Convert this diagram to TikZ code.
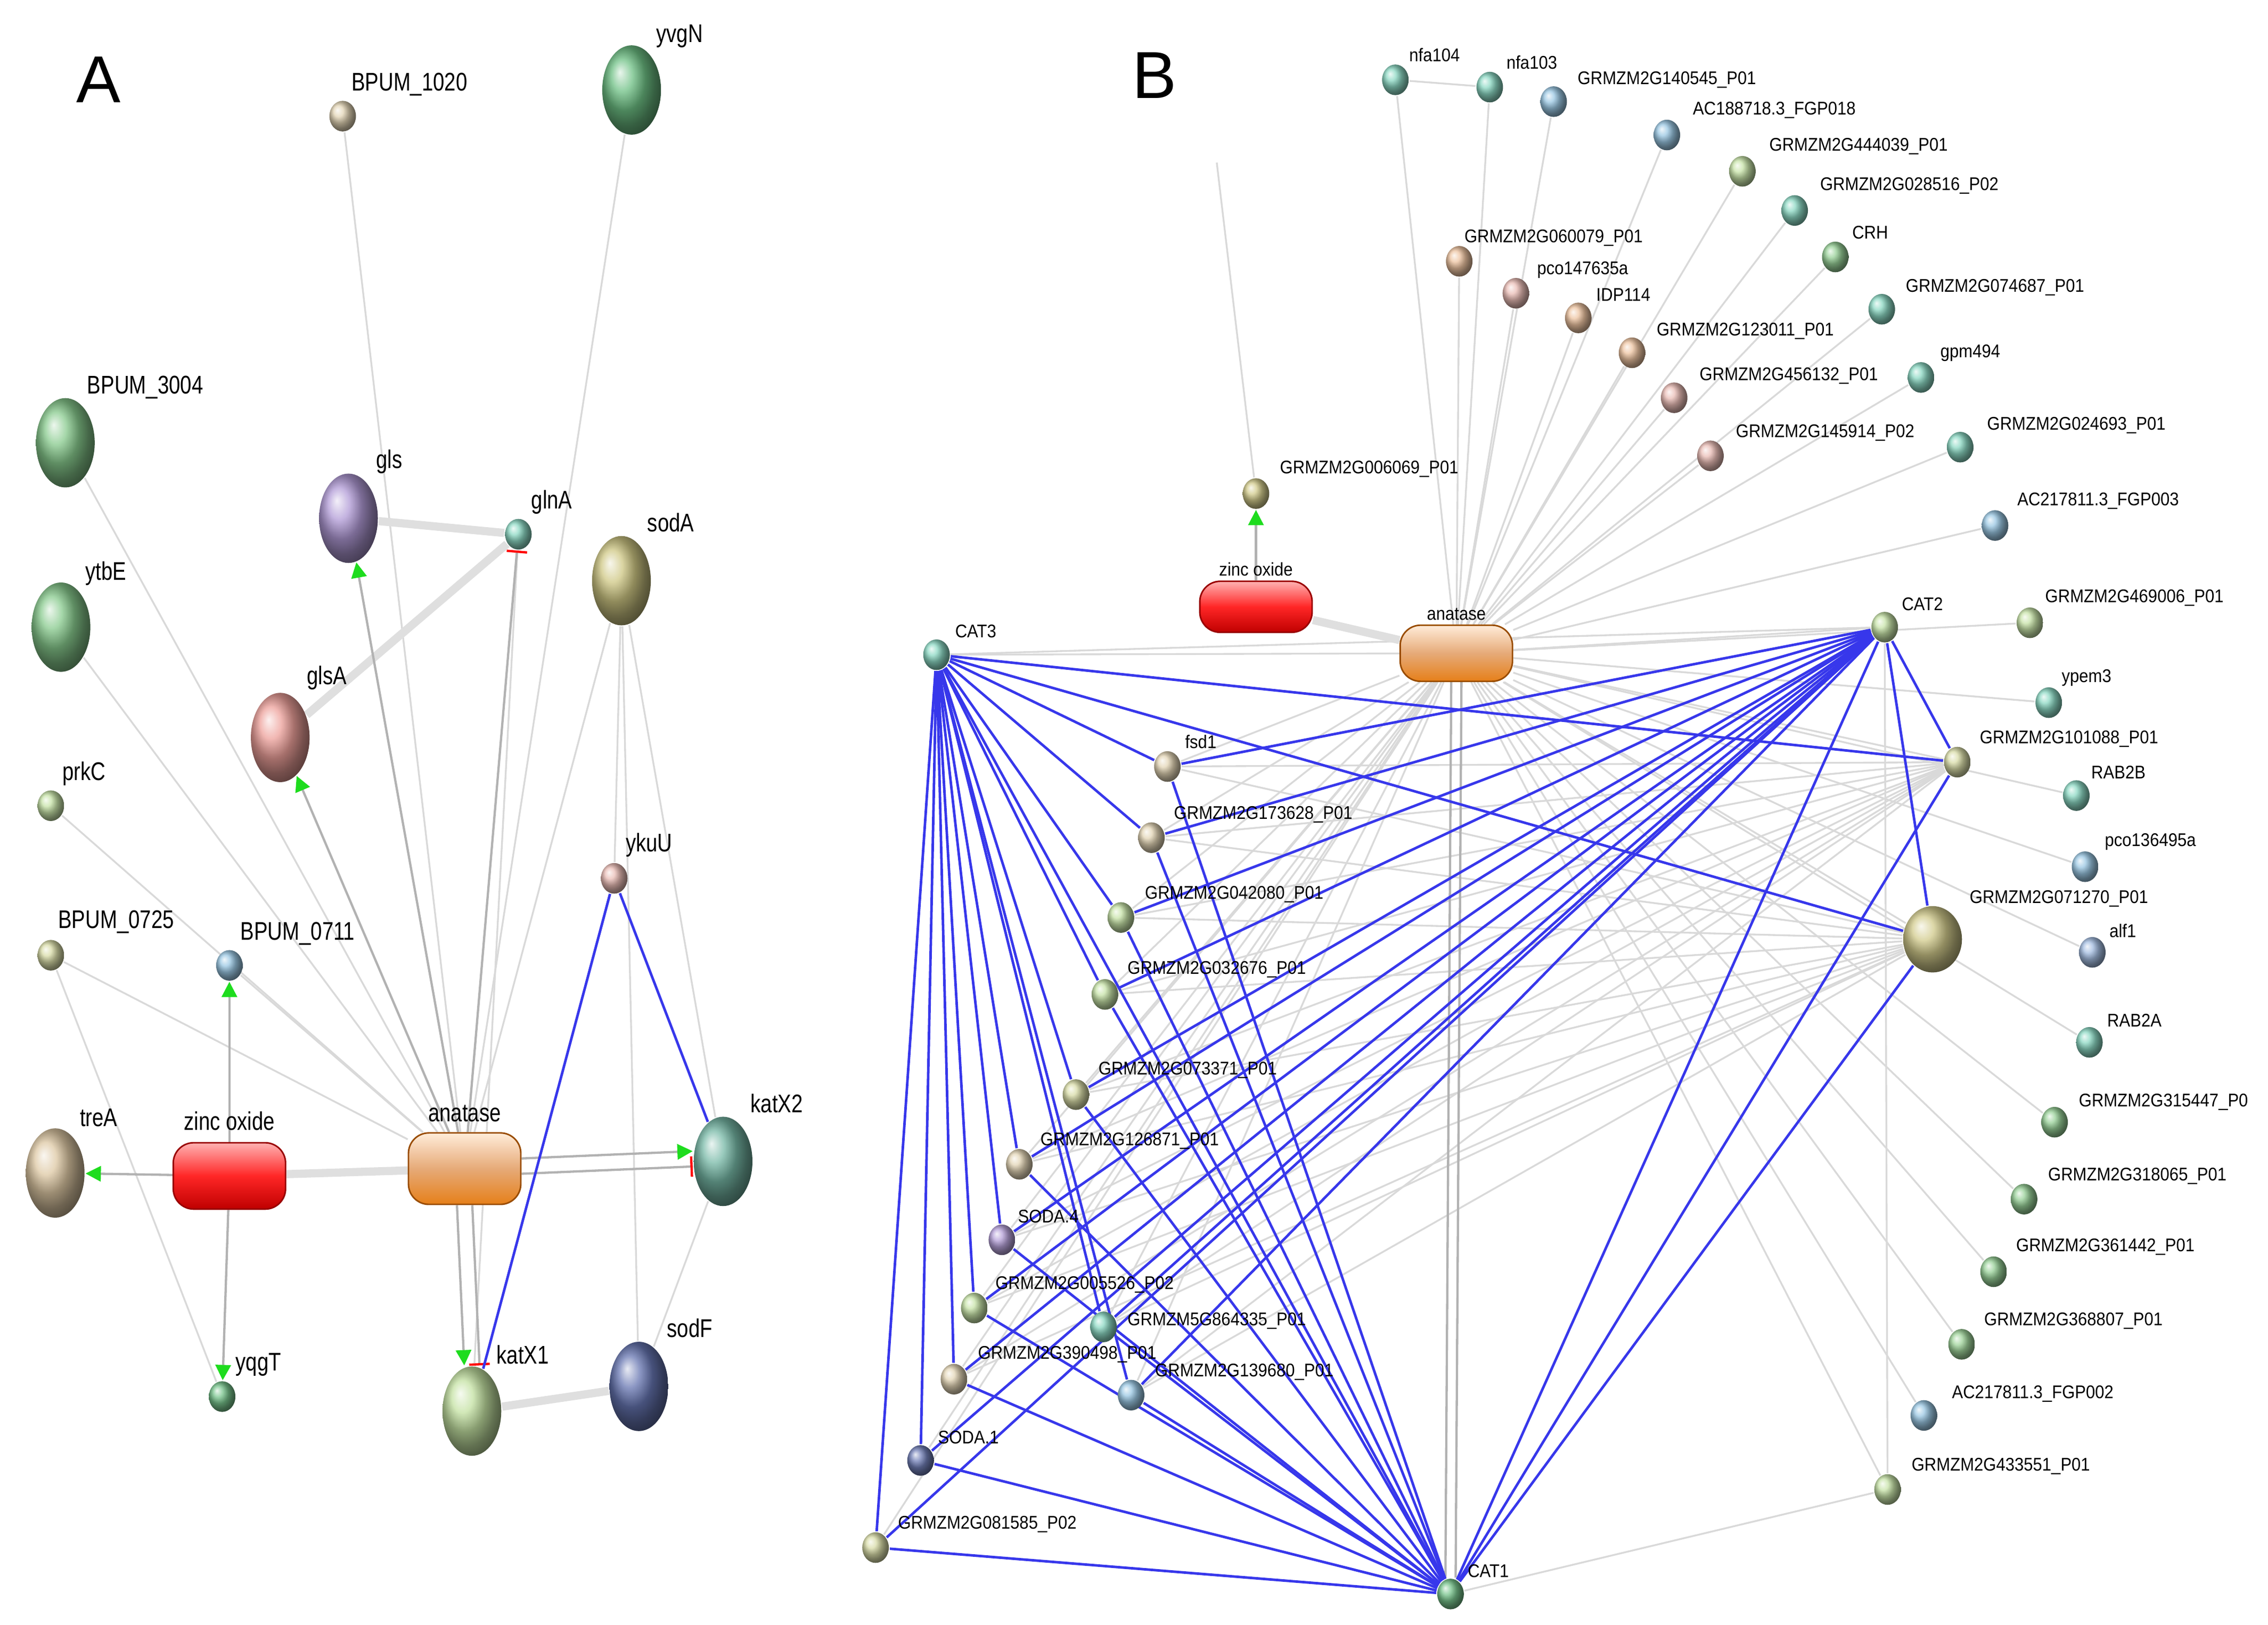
\documentclass[tikz,border=0pt]{standalone}
\usepackage{fontspec}
\setmainfont{Liberation Sans}
\usetikzlibrary{arrows.meta,shapes.geometric,backgrounds}
\definecolor{tanc}{RGB}{215,195,150}
\definecolor{gr1}{RGB}{60,170,90}
\definecolor{lg}{RGB}{175,215,130}
\definecolor{yg}{RGB}{200,205,130}
\definecolor{olv}{RGB}{190,180,90}
\definecolor{tea}{RGB}{90,200,170}
\definecolor{blu}{RGB}{110,175,215}
\definecolor{pnk}{RGB}{225,160,150}
\definecolor{pur}{RGB}{150,120,200}
\definecolor{dbl}{RGB}{50,70,150}
\definecolor{orc}{RGB}{230,170,120}
\definecolor{edgeb}{RGB}{55,55,235}
\definecolor{arrg}{RGB}{30,220,30}
\begin{document}
\begin{tikzpicture}[x=0.01cm,y=-0.01cm,
 sm/.style={ellipse,shading=ball,ball color=#1!70!white,minimum width=5.2pt,minimum height=6pt,inner sep=0},
 bg/.style={ellipse,shading=ball,ball color=#1!75!white,minimum width=11.5pt,minimum height=17.5pt,inner sep=0},
 mb/.style={ellipse,shading=ball,ball color=#1!70!white,minimum width=11.5pt,minimum height=13pt,inner sep=0},
 la/.style={font=\fontsize{5}{6}\selectfont,inner sep=0.5pt,xscale=0.8,transform shape},
 lb/.style={font=\fontsize{3.6}{4}\selectfont,inner sep=0.5pt,xscale=0.9,transform shape},
 zn/.style={rectangle,rounded corners=4pt,top color=red!30,bottom color=red!75!black,middle color=red!85,minimum width=22pt,minimum height=#1,draw=red!60!black,line width=0.3pt},
 an/.style={rectangle,rounded corners=4pt,top color=orange!15,bottom color=orange!60!brown,middle color=orc,minimum width=22pt,minimum height=#1,draw=orange!60!black,line width=0.3pt},
 ge/.style={draw=gray!30,line width=0.35pt},
 gd/.style={draw=gray!60,line width=0.45pt},
 gt/.style={draw=gray!25,line width=1.6pt},
 be/.style={draw=edgeb,line width=0.5pt},
 ga/.style={-{Triangle[length=3pt,width=3pt,color=arrg]}}
]
\useasboundingbox (0,0) rectangle (1562,1119);
% ================= Panel A =================
\node[font=\fontsize{13}{13}\selectfont] (labA) at (68,55) {A};
\node[sm=tanc] (a1020) at (236,80) {};
\node[bg=gr1] (yvgN) at (435,62) {};
\node[bg=gr1!70!lg] (a3004) at (45,305) {};
\node[bg=gr1!70!lg] (ytbE) at (42,432) {};
\node[sm=lg] (prkC) at (35,555) {};
\node[sm=yg] (a0725) at (35,658) {};
\node[sm=blu] (a0711) at (158,665) {};
\node[bg=tanc!80!brown] (treA) at (38,808) {};
\node[zn=13pt] (znA) at (158,810) {};
\node[an=14pt] (anA) at (320,805) {};
\node[bg=tea!80!black] (katX2) at (498,800) {};
\node[sm=gr1] (yqgT) at (153,962) {};
\node[bg=lg] (katX1) at (325,972) {};
\node[bg=dbl] (sodF) at (440,955) {};
\node[sm=pnk] (ykuU) at (423,605) {};
\node[bg=olv] (sodA) at (428,400) {};
\node[sm=tea] (glnA) at (357,368) {};
\node[bg=pur] (gls) at (240,357) {};
\node[bg=pnk!80!red] (glsA) at (193,508) {};
\node[la] (l1) at (282,58) {BPUM\_1020};
\node[la] (l2) at (468,25) {yvgN};
\node[la] (l3) at (100,267) {BPUM\_3004};
\node[la] (l4) at (73,395) {ytbE};
\node[la] (l5) at (58,533) {prkC};
\node[la] (l6) at (80,635) {BPUM\_0725};
\node[la] (l7) at (205,643) {BPUM\_0711};
\node[la] (l8) at (68,770) {treA};
\node[la] (l9) at (158,772) {zinc oxide};
\node[la] (l10) at (320,767) {anatase};
\node[la] (l11) at (535,760) {katX2};
\node[la] (l12) at (178,940) {yqgT};
\node[la] (l13) at (360,933) {katX1};
\node[la] (l14) at (475,915) {sodF};
\node[la] (l15) at (447,582) {ykuU};
\node[la] (l16) at (462,360) {sodA};
\node[la] (l17) at (380,346) {glnA};
\node[la] (l18) at (268,318) {gls};
\node[la] (l19) at (225,467) {glsA};
\begin{pgfonlayer}{background}
\foreach \t in {a1020,yvgN,a3004,ytbE,prkC,a0725,a0711,sodA} \draw[ge] (anA) -- (\t);
\draw[ge] (a0725) -- (yqgT);
\draw[ge] (sodA) -- (sodF); \draw[ge] (sodA) -- (katX2); \draw[ge] (sodA) -- (ykuU);
\draw[ge] (sodF) -- (katX2); \draw[ge] (glnA) -- (katX1);
\draw[gt] (gls) -- (glnA); \draw[gt] (glsA) -- (glnA); \draw[gt] (znA) -- (anA); \draw[gt] (katX1) -- (sodF);
\draw[gd,ga] (anA) -- (gls); \draw[gd,ga] (anA) -- (glsA);
\draw[gd,-{Bar[width=4pt,color=red]}] (anA) -- (glnA);
\draw[gd,ga] ([yshift=2pt]anA.east) -- ([yshift=2pt]katX2.west);
\draw[gd,-{Bar[width=4pt,color=red]}] ([yshift=-1pt]anA.east) -- ([yshift=-1pt]katX2.west);
\draw[gd,ga] ([xshift=-1.5pt]anA.south) -- ([xshift=-1.5pt]katX1.north);
\draw[gd,-{Bar[width=4pt,color=red]}] ([xshift=1.5pt]anA.south) -- ([xshift=1.5pt]katX1.north);
\draw[gd,ga] (znA) -- (treA); \draw[gd,ga] (znA) -- (a0711); \draw[gd,ga] (znA) -- (yqgT);
\draw[be] (ykuU) -- (katX1); \draw[be] (ykuU) -- (katX2);
\end{pgfonlayer}
% ================= Panel B =================
\node[font=\fontsize{13}{13}\selectfont] (labB) at (795,52) {B};
\foreach \n/\c/\x/\y/\lx/\ly/\t in {
 nfa104/tea/961/55/988/38/nfa104,
 nfa103/tea/1026/60/1055/43/nfa103,
 g140545/blu/1070/70/1148/55/GRMZM2G140545\_P01,
 ac018/blu/1148/93/1222/76/AC188718.3\_FGP018,
 g444039/lg/1200/118/1280/101/GRMZM2G444039\_P01,
 g028516/tea/1236/145/1315/128/GRMZM2G028516\_P02,
 crh/gr1!60!lg/1264/177/1288/160/CRH,
 g074687/tea/1296/213/1374/198/GRMZM2G074687\_P01,
 gpm494/tea/1323/260/1357/243/gpm494,
 g024693/tea/1350/308/1430/293/GRMZM2G024693\_P01,
 ac003/blu/1374/362/1445/345/AC217811.3\_FGP003,
 g060079/orc/1005/180/1070/164/GRMZM2G060079\_P01,
 pco147/pnk/1044/202/1090/186/pco147635a,
 idp114/orc/1087/219/1118/203/IDP114,
 g123011/orc/1124/243/1202/228/GRMZM2G123011\_P01,
 g456132/pnk/1153/274/1232/259/GRMZM2G456132\_P01,
 g145914/pnk/1178/314/1257/298/GRMZM2G145914\_P02,
 g006069/olv/865/340/943/323/GRMZM2G006069\_P01,
 cat3/tea/645/451/672/435/CAT3,
 cat2/lg/1298/432/1324/416/CAT2,
 g469006/lg/1398/429/1470/412/GRMZM2G469006\_P01,
 ypem3/tea/1411/484/1437/467/ypem3,
 g101088/yg/1348/525/1425/509/GRMZM2G101088\_P01,
 rab2b/tea/1430/548/1459/532/RAB2B,
 pco136/blu/1436/597/1481/580/pco136495a,
 alf1/blu!70!pur/1441/656/1462/641/alf1,
 rab2a/tea/1439/718/1470/703/RAB2A,
 g315447/gr1!60!lg/1415/773/1490/759/GRMZM2G315447\_P0,
 g318065/gr1!60!lg/1394/826/1472/810/GRMZM2G318065\_P01,
 g361442/gr1!60!lg/1373/876/1450/859/GRMZM2G361442\_P01,
 g368807/gr1!50!lg/1351/926/1428/910/GRMZM2G368807\_P01,
 ac002/blu/1325/975/1400/960/AC217811.3\_FGP002,
 g433551/lg/1300/1026/1378/1010/GRMZM2G433551\_P01,
 cat1/gr1/999/1098/1025/1082/CAT1,
 fsd1/tanc/804/528/827/511/fsd1,
 g173628/tanc/793/577/870/561/GRMZM2G173628\_P01,
 g042080/lg/772/632/850/616/GRMZM2G042080\_P01,
 g032676/lg/761/685/838/668/GRMZM2G032676\_P01,
 g073371/yg/741/754/818/737/GRMZM2G073371\_P01,
 g126871/tanc/702/802/778/786/GRMZM2G126871\_P01,
 soda4/pur/690/854/722/838/SODA.4,
 g005526/lg/671/901/747/885/GRMZM2G005526\_P02,
 g864335/tea/760/914/838/910/GRMZM5G864335\_P01,
 g390498/tanc/657/950/735/933/GRMZM2G390498\_P01,
 g139680/blu/779/961/857/945/GRMZM2G139680\_P01,
 soda1/dbl/634/1006/667/990/SODA.1,
 g081585/yg/603/1066/680/1050/GRMZM2G081585\_P02}
{\node[sm=\c] (\n) at (\x,\y) {}; \node[lb] (l\n) at (\lx,\ly) {\t};}
\node[mb=olv] (g071270) at (1331,647) {};
\node[lb] (lg071270) at (1418,619) {GRMZM2G071270\_P01};
\node[zn=10pt] (znB) at (865,418) {};
\node[lb] (lznB) at (865,392) {zinc oxide};
\node[an=11pt] (anB) at (1003,450) {};
\node[lb] (lanB) at (1003,423) {anatase};
\coordinate (free) at (838,112);
\begin{pgfonlayer}{background}
\foreach \t in {nfa104,nfa103,g140545,ac018,g444039,g028516,crh,g074687,gpm494,g024693,ac003,g060079,pco147,idp114,g123011,g456132,g145914,cat3,cat2,g469006,ypem3,g101088,rab2b,pco136,alf1,rab2a,g315447,g318065,g361442,g368807,ac002,g433551,g071270,fsd1,g173628,g042080,g032676,g073371,g126871,soda4,g005526,g864335,g390498,g139680,soda1,g081585}
 \draw[ge] (anB) -- (\t);
\draw[ge] (nfa104) -- (nfa103);
\draw[ge] (free) -- (g006069);
\draw[ge] (cat2) -- (g433551); \draw[ge] (cat1) -- (g433551);
\draw[ge] (cat3) -- (cat2);
\foreach \t in {fsd1,g173628,g042080,g032676,g073371,g126871,soda4,g005526,g864335,g390498,g139680}
 {\draw[ge] (g101088) -- (\t); \draw[ge] (g071270) -- (\t);}
\draw[gd] ([xshift=-1pt]anB.south) -- ([xshift=-1pt]cat1.north);
\draw[gd] ([xshift=1pt]anB.south) -- ([xshift=1pt]cat1.north);
\draw[gt] (znB) -- (anB);
\draw[gd,ga] (znB) -- (g006069);
\foreach \t in {fsd1,g173628,g042080,g032676,g073371,g126871,soda4,g005526,g864335,g390498,g139680,soda1,g081585,cat1,g101088,g071270}
 \draw[be] (cat3) -- (\t);
\foreach \t in {fsd1,g173628,g042080,g032676,g073371,g126871,soda4,g005526,g864335,g390498,g139680,soda1,g081585,cat1,g101088,g071270}
 \draw[be] (cat2) -- (\t);
\foreach \t in {fsd1,g173628,g042080,g032676,g073371,g126871,soda4,g005526,g864335,g390498,g139680,soda1,g081585,g101088,g071270}
 \draw[be] (cat1) -- (\t);
\end{pgfonlayer}
\end{tikzpicture}
\end{document}
